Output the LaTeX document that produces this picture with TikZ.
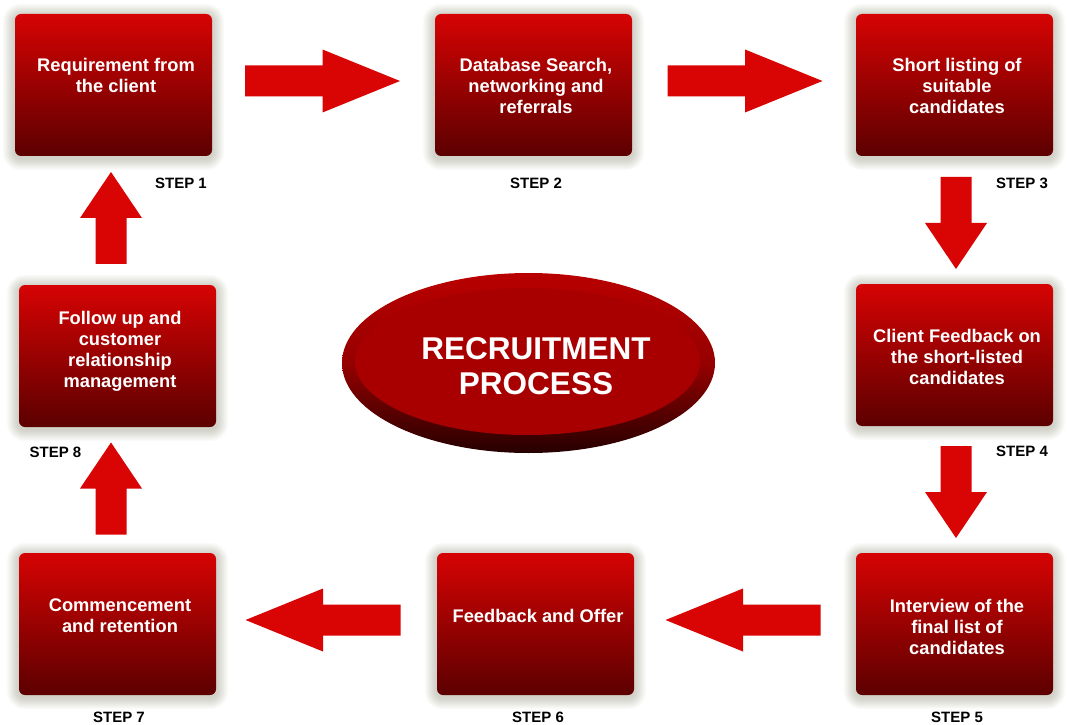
\documentclass[tikz,border=0pt]{standalone}
\usepackage{fontspec}
\setmainfont{Liberation Sans}
\usetikzlibrary{shapes.geometric}
\definecolor{arrowred}{RGB}{217,5,5}
\definecolor{boxtop}{RGB}{214,3,3}
\definecolor{boxbot}{RGB}{92,0,0}
\definecolor{elltop}{RGB}{185,0,0}
\definecolor{ellmid}{RGB}{150,0,0}
\definecolor{ellbot}{RGB}{38,0,0}
\definecolor{ellin}{RGB}{168,0,0}
\definecolor{glowcol}{RGB}{110,110,80}
\pgfdeclarelayer{background}
\pgfsetlayers{background,main}
\begin{document}
\begin{tikzpicture}[x=1pt,y=1pt,
  stepbox/.style={rounded corners=6pt, minimum width=197pt, minimum height=142pt,
    inner sep=0pt, top color=boxtop, bottom color=boxbot, draw=none},
  boxtext/.style={text=white, font=\fontsize{18.3}{21}\selectfont\bfseries, align=center, inner sep=0pt},
  steplabel/.style={font=\fontsize{15}{18}\selectfont\bfseries, text=black, inner sep=0pt},
  glow/.style={fill=glowcol, fill opacity=0.028},
  harrow/.pic={\fill[arrowred] (-77.5,-15.5) -- (0,-15.5) -- (0,-31.5) -- (77.5,0) -- (0,31.5) -- (0,15.5) -- (-77.5,15.5) -- cycle;},
  varrow/.pic={\fill[arrowred] (-46,-15.5) -- (0,-15.5) -- (0,-31) -- (46,0) -- (0,31) -- (0,15.5) -- (-46,15.5) -- cycle;}
]
\begin{pgfonlayer}{background}
\fill[white] (0,0) rectangle (1067,724);
\end{pgfonlayer}
\useasboundingbox (0,0) rectangle (1067,724);

% boxes
\node[stepbox] (b1) at (113.5,639) {};
\node[stepbox] (b2) at (533.5,639) {};
\node[stepbox] (b3) at (954.5,639) {};
\node[stepbox] (b4) at (954.5,369) {};
\node[stepbox] (b5) at (954.5,100) {};
\node[stepbox] (b6) at (535.5,100) {};
\node[stepbox] (b7) at (117.5,100) {};
\node[stepbox] (b8) at (117.5,368) {};

% soft glow behind boxes
\begin{pgfonlayer}{background}
\foreach \b in {b1,b2,b3,b4,b5,b6,b7,b8}{
  \foreach \i in {1,...,12}{
    \fill[glow, rounded corners={6pt+\i pt}]
      ([shift={(-\i pt,-\i pt-2pt)}]\b.south west) rectangle ([shift={(\i pt,\i pt-2pt)}]\b.north east);
  }
}
\end{pgfonlayer}

% box texts
\node[boxtext] (t1) at ([xshift=2.5pt,yshift=9.5pt]b1.center) {Requirement from\\the client};
\node[boxtext] (t2) at ([xshift=2.5pt,yshift=-1pt]b2.center) {Database Search,\\networking and\\referrals};
\node[boxtext] (t3) at ([xshift=2.5pt,yshift=-1pt]b3.center) {Short listing of\\suitable\\candidates};
\node[boxtext] (t4) at ([xshift=2.5pt,yshift=-1.5pt]b4.center) {Client Feedback on\\the short-listed\\candidates};
\node[boxtext] (t5) at ([xshift=2.5pt,yshift=-2.5pt]b5.center) {Interview of the\\final list of\\candidates};
\node[boxtext] (t6) at ([xshift=2.5pt,yshift=8pt]b6.center) {Feedback and Offer};
\node[boxtext] (t7) at ([xshift=2.5pt,yshift=8pt]b7.center) {Commencement\\and retention};
\node[boxtext] (t8) at ([xshift=2.5pt,yshift=4.5pt]b8.center) {Follow up and\\customer\\relationship\\management};

% step labels
\node[steplabel] (s1) at (181,541) {STEP 1};
\node[steplabel] (s2) at (536,541) {STEP 2};
\node[steplabel] (s3) at (1022,541) {STEP 3};
\node[steplabel] (s4) at (1022,273) {STEP 4};
\node[steplabel] (s5) at (957,7) {STEP 5};
\node[steplabel] (s6) at (538,7) {STEP 6};
\node[steplabel] (s7) at (119,7) {STEP 7};
\node[steplabel] (s8) at (55.5,272) {STEP 8};

% block arrows between boxes
\coordinate (a12) at (322.5,643);
\coordinate (a23) at (745,643);
\coordinate (a34) at (956,501);
\coordinate (a45) at (956,232);
\coordinate (a56) at (743,104);
\coordinate (a67) at (323,104);
\coordinate (a78) at (111,235.5);
\coordinate (a81) at (111,506);
\pic at (a12) {harrow};
\pic at (a23) {harrow};
\pic[rotate=-90] at (a34) {varrow};
\pic[rotate=-90] at (a45) {varrow};
\pic[rotate=180] at (a56) {harrow};
\pic[rotate=180] at (a67) {harrow};
\pic[rotate=90] at (a78) {varrow};
\pic[rotate=90] at (a81) {varrow};

% central ellipse
\node[ellipse, minimum width=373pt, minimum height=180pt, inner sep=0pt,
  top color=elltop, bottom color=ellbot, middle color=ellmid] (outer) at (528.5,361) {};
\node[ellipse, minimum width=345pt, minimum height=147pt, inner sep=0pt,
  fill=ellin] (inner) at (527.5,362.5) {};
\node[text=white, font=\fontsize{31.5}{35}\selectfont\bfseries, align=center, inner sep=0pt]
  (title) at (536,358) {RECRUITMENT\\PROCESS};
\end{tikzpicture}
\end{document}
